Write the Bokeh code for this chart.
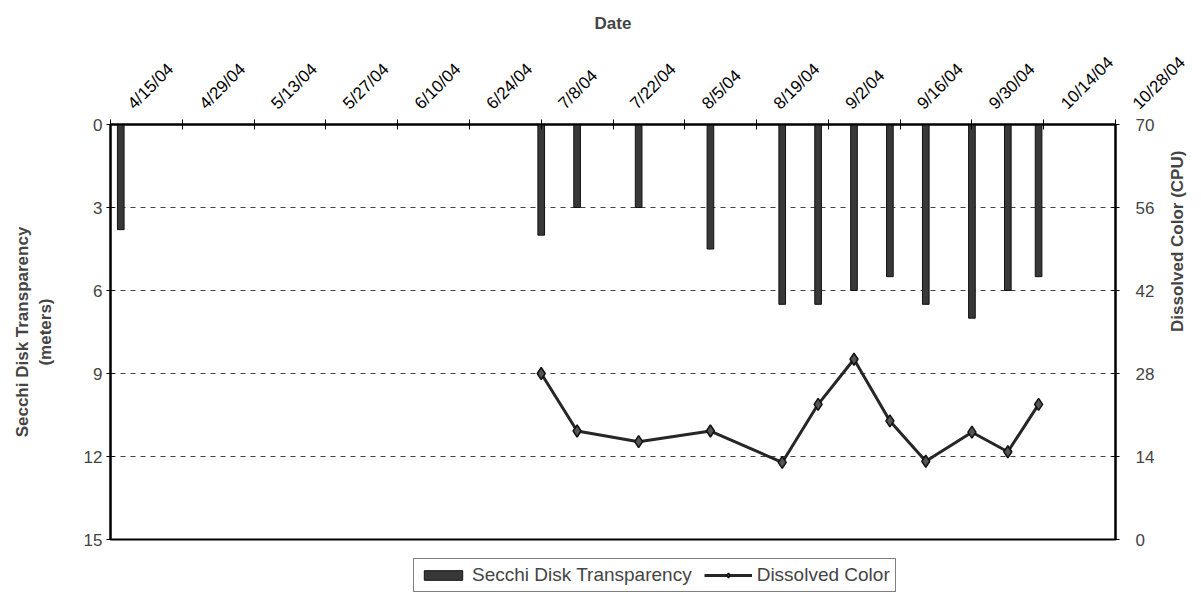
import math
import pandas as pd
from bokeh.plotting import figure
from bokeh.layouts import column
from bokeh.models import (Range1d, LinearAxis, FixedTicker, Legend, LegendItem,
                          CustomJSTickFormatter)
from bokeh.embed import file_html
from bokeh.resources import INLINE

# ---------------- data ----------------
axis_start = "2004-04-15"
axis_end = "2004-10-28"
tick_step_days = 14
date_tick_labels = ["4/15/04", "4/29/04", "5/13/04", "5/27/04", "6/10/04", "6/24/04",
                    "7/8/04", "7/22/04", "8/5/04", "8/19/04", "9/2/04", "9/16/04",
                    "9/30/04", "10/14/04", "10/28/04"]

secchi_dates = ["2004-04-17", "2004-07-08", "2004-07-15", "2004-07-27", "2004-08-10",
                "2004-08-24", "2004-08-31", "2004-09-07", "2004-09-14", "2004-09-21",
                "2004-09-30", "2004-10-07", "2004-10-13"]
secchi_depth_m = [3.8, 4.0, 3.0, 3.0, 4.5, 6.5, 6.5, 6.0, 5.5, 6.5, 7.0, 6.0, 5.5]

color_dates = ["2004-07-08", "2004-07-15", "2004-07-27", "2004-08-10", "2004-08-24",
               "2004-08-31", "2004-09-07", "2004-09-14", "2004-09-21", "2004-09-30",
               "2004-10-07", "2004-10-13"]
color_cpu = [28, 18.3, 16.5, 18.3, 13, 22.8, 30.4, 20, 13.2, 18.1, 14.8, 22.8]

secchi_ticks = [0, 3, 6, 9, 12, 15]
color_ticks = [0, 14, 28, 42, 56, 70]
legend_labels = ["Secchi Disk Transparency", "Dissolved Color"]

# ---------------- helpers ----------------
start = pd.Timestamp(axis_start)
span_days = (pd.Timestamp(axis_end) - start).days


def to_days(dates):
    return [(pd.Timestamp(d) - start).days for d in dates]


tick_days = list(range(0, span_days + 1, tick_step_days))
secchi_x = to_days(secchi_dates)
color_x = to_days(color_dates)

FONT = "Liberation Sans"
PAD = "\u00a0" * 6   # rotated date labels start a little off their tick mark

BAR_STYLE = dict(fill_color="#383838", line_color="#111111", line_width=1)
LINE_STYLE = dict(line_color="#262626", line_width=3)
MARK_STYLE = dict(marker="diamond", size=12, fill_color="#555555",
                  line_color="#111111", line_width=1.5)

p = figure(frame_width=1005, frame_height=415,
           min_border_left=110, min_border_right=70,
           min_border_top=124, min_border_bottom=12,
           x_range=Range1d(0, span_days), y_range=Range1d(15, 0),
           x_axis_location="above",
           output_backend="svg", toolbar_location=None,
           background_fill_color="white", border_fill_color="white")

p.extra_y_ranges = {"cpu": Range1d(0, 70)}

# frame
p.outline_line_color = "black"
p.outline_line_width = 2
p.outline_line_alpha = 1

# grid
p.xgrid.visible = False
p.ygrid.ticker = FixedTicker(ticks=[3, 6, 9, 12])
p.ygrid.grid_line_color = "#444444"
p.ygrid.grid_line_dash = "5 5"
p.ygrid.grid_line_width = 1

# top date axis
xa = p.xaxis[0]
xa.ticker = FixedTicker(ticks=tick_days)
xa.formatter = CustomJSTickFormatter(args=dict(labels=date_tick_labels, pad=PAD),
                                     code="return pad + labels[index];")
xa.major_label_orientation = math.pi / 4
xa.major_label_text_font = FONT
xa.major_label_text_font_size = "17px"
xa.major_label_text_color = "black"
xa.major_label_standoff = -7
xa.axis_label = "Date"
xa.axis_label_text_font = FONT
xa.axis_label_text_font_style = "bold"
xa.axis_label_text_font_size = "17px"
xa.axis_label_standoff = 10
xa.axis_line_width = 2
xa.major_tick_in = 5
xa.major_tick_out = 5
xa.major_tick_line_color = "black"
xa.minor_tick_line_color = None

# left axis
ya = p.yaxis[0]
ya.ticker = FixedTicker(ticks=secchi_ticks)
ya.axis_label = "Secchi Disk Transparency\n(meters)"
ya.axis_label_text_font = FONT
ya.axis_label_text_font_style = "bold"
ya.axis_label_text_font_size = "17px"
ya.axis_label_standoff = 26
ya.major_label_text_font = FONT
ya.major_label_text_font_size = "17px"
ya.major_label_standoff = 4
ya.major_tick_in = 4
ya.major_tick_out = 4
ya.minor_tick_line_color = None
ya.axis_line_width = 2

# right axis
ra = LinearAxis(y_range_name="cpu", ticker=FixedTicker(ticks=color_ticks),
                axis_label="Dissolved Color (CPU)")
ra.axis_label_text_font = FONT
ra.axis_label_text_font_style = "bold"
ra.axis_label_text_font_size = "17px"
ra.axis_label_standoff = 20
ra.major_label_text_font = FONT
ra.major_label_text_font_size = "17px"
ra.major_label_standoff = 16
ra.major_tick_in = 4
ra.major_tick_out = 4
ra.minor_tick_line_color = None
ra.axis_line_width = 2
if "axis_label_orientation" in ra.properties():
    ra.axis_label_orientation = math.pi / 2
p.add_layout(ra, "right")

# bars (Secchi depth hanging from the surface)
p.vbar(x=secchi_x, width=1.3, top=0, bottom=secchi_depth_m, **BAR_STYLE)

# dissolved colour line
p.line(x=color_x, y=color_cpu, y_range_name="cpu", **LINE_STYLE)
p.scatter(x=color_x, y=color_cpu, y_range_name="cpu", **MARK_STYLE)

# ---------------- legend strip below the chart ----------------
# key renderers reuse the series but their data lie well outside this strip's ranges
lf = figure(width=1185, height=42, min_border=0,
            x_range=Range1d(1000, 2000), y_range=Range1d(1000, 2000),
            x_axis_location=None, y_axis_location=None,
            output_backend="svg", toolbar_location=None,
            background_fill_color="white", border_fill_color="white")
lf.grid.visible = False
lf.outline_line_color = None
key_bar = lf.vbar(x=secchi_x, width=1.3, top=0, bottom=secchi_depth_m, **BAR_STYLE)
key_line = lf.line(x=color_x, y=color_cpu, **LINE_STYLE)
key_mark = lf.scatter(x=color_x, y=color_cpu, **MARK_STYLE)

legend = Legend(items=[LegendItem(label=legend_labels[0], renderers=[key_bar]),
                       LegendItem(label=legend_labels[1], renderers=[key_line, key_mark])],
                orientation="horizontal", location=(303, 1),
                label_text_font=FONT, label_text_font_size="19px",
                glyph_width=48, glyph_height=12, spacing=12, padding=5,
                margin=0, label_standoff=5,
                border_line_color="black", border_line_width=1,
                background_fill_color="white", background_fill_alpha=1)
lf.add_layout(legend)

page = column(p, lf, spacing=0)
open("out.html", "w").write(file_html(page, INLINE))
